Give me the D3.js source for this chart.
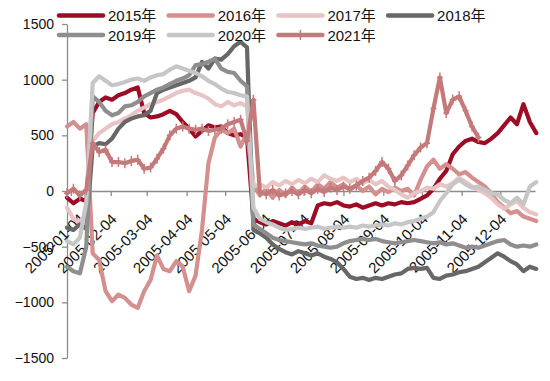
<!DOCTYPE html>
<html>
<head>
<meta charset="utf-8">
<script src="https://cdn.jsdelivr.net/npm/d3@7"></script>
<style>
body { margin: 0; background: #fff; }
svg { display: block; font-family: 'Liberation Sans', 'Noto Sans CJK SC', sans-serif; }
</style>
</head>
<body>
<div class="js-chart"></div>
<script>
var years = ['2015年', '2016年', '2017年', '2018年', '2019年', '2020年', '2021年'];
var colors = ['#9c0c24', '#d4908f', '#e8c4c4', '#676767', '#8e8e8e', '#c6c6c6', '#c47a7a'];
var tickLabels = ['2005-01-04', '2005-02-04', '2005-03-04', '2005-04-04', '2005-05-04', '2005-06-04',
    '2005-07-04', '2005-08-04', '2005-09-04', '2005-10-04', '2005-11-04', '2005-12-04'];
var yTicks = [-1500, -1000, -500, 0, 500, 1000, 1500];

// one value every 5 days, starting 2005-01-01
var v2015 = [-60, -110, -70, -90, 700, 800, 840, 820, 860, 880, 910, 930, 700, 660, 670, 690, 720, 690, 620, 560,
    490, 540, 590, 570, 580, 520, 500, 510, 480, -250, -280, -300, -270, -290, -310, -280, -300, -270, -290, -130,
    -110, -120, -100, -130, -140, -120, -150, -130, -110, -130, -110, -120, -100, -110, -100, -70, -40, 20, 110, 180,
    330, 400, 450, 470, 440, 430, 470, 520, 590, 660, 600, 780, 620, 520];
var v2016 = [580, 620, 560, 600, -560, -620, -900, -990, -930, -960, -1020, -1050, -900, -800, -580, -700, -720, -630, -680, -900,
    -760, -350, 250, 480, 550, 520, 560, 400, 520, 60, -40, 20, -60, 10, -40, 30, -20, 40, -10, 60,
    20, 80, 30, 60, 10, 50, 0, 40, -30, 20, -10, 30, 0, 20, -40, 100, 220, 280, 200, 240,
    200, 150, 170, 120, 80, 40, -20, -100, -150, -200, -180, -230, -250, -270];
var v2017 = [-150, -250, -280, -200, 450, 520, 560, 600, 620, 650, 680, 720, 750, 780, 800, 820, 850, 880, 900, 910,
    880, 860, 830, 780, 760, 800, 770, 790, 760, 40, 60, 30, 80, 50, 90, 60, 100, 70, 110, 80,
    140, 110, 90, 120, 80, 110, 70, 100, 60, 90, 40, 10, -30, -60, -20, 0, 30, 20, 60, 40,
    70, 120, 80, 40, 10, -20, -60, -120, -160, -120, -90, -150, -190, -210];
var v2018 = [-330, -350, -300, -340, 400, 430, 420, 470, 560, 620, 650, 670, 680, 720, 880, 910, 930, 950, 970, 990,
    1020, 1160, 1100, 1190, 1180, 1230, 1300, 1340, 1290, -350, -380, -420, -480, -520, -550, -570, -540, -560, -580, -560,
    -590, -610, -640, -700, -770, -790, -780, -800, -780, -790, -770, -750, -740, -700, -690, -700, -690, -780, -790, -760,
    -750, -730, -720, -700, -680, -640, -600, -560, -590, -630, -660, -720, -680, -700];
var v2019 = [-680, -720, -740, -500, 850, 800, 720, 680, 700, 760, 770, 800, 850, 880, 910, 930, 960, 990, 1010, 1040,
    1130, 1140, 1160, 1190, 1100, 1070, 1060, 990, 940, -300, -340, -380, -420, -440, -450, -460, -470, -480, -470, -490,
    -500, -510, -500, -470, -450, -440, -430, -440, -430, -450, -460, -470, -460, -450, -440, -450, -460, -470, -460, -480,
    -470, -490, -510, -500, -510, -490, -470, -450, -440, -480, -500, -490, -500, -480];
var v2020 = [-450, -480, -420, -100, 970, 1030, 990, 950, 960, 980, 1000, 1010, 990, 1020, 1040, 1050, 1090, 1120, 1100, 1080,
    1060, 1030, 990, 960, 920, 890, 880, 860, 850, -150, -250, -280, -300, -330, -350, -340, -330, -340, -330, -320,
    -340, -330, -320, -330, -320, -330, -310, -320, -310, -300, -310, -290, -300, -280, -270, -250, -230, -190, -90, -20,
    60, 100, 60, 30, 40, 10, -20, -30, -80, -110, -60, -120, 40, 80];
var v2021 = [-20, 20, -40, 10, 430, 350, 370, 260, 260, 250, 270, 280, 200, 210, 290, 380, 500, 560, 580, 560,
    550, 560, 540, 550, 560, 600, 620, 640, 450, 820, -10, -30, 10, -40, -20, 0, -30, 10, -20, 20,
    -10, 30, 10, 40, 20, 50, 90, 120, 180, 260, 200, 90, 140, 230, 320, 390, 430, 740, 1020, 700,
    820, 850, 720, 580, 480];

var series = [v2015, v2016, v2017, v2018, v2019, v2020, v2021];
var dates = d3.timeDay.range(new Date(2005, 0, 1), new Date(2006, 0, 2), 5);
var parse = d3.timeParse('%Y-%m-%d');

var svg = d3.select('.js-chart')
    .append('svg')
    .attr('width', 550)
    .attr('height', 381);

var x = d3.scaleTime()
    .domain([new Date(2005, 0, 1), new Date(2005, 11, 31)])
    .range([67, 535]);

var y = d3.scaleLinear()
    .domain([-1500, 1500])
    .range([358, 24]);

// y axis
var yAxis = svg.append('g')
    .attr('transform', 'translate(67,0)')
    .call(d3.axisLeft(y)
        .tickValues(yTicks)
        .tickFormat(d3.format('d'))
        .tickSize(5)
        .tickPadding(8)
        .tickSizeOuter(0));
yAxis.select('.domain').attr('stroke', '#8c8c8c').attr('stroke-width', 1.3);
yAxis.selectAll('.tick line').attr('stroke', '#8c8c8c').attr('stroke-width', 1.3);
yAxis.selectAll('.tick text')
    .style('font-size', '14px')
    .attr('fill', '#111');

// x axis sits on zero
var xAxis = svg.append('g')
    .attr('transform', 'translate(0,' + y(0) + ')')
    .call(d3.axisBottom(x)
        .tickValues(tickLabels.map(parse))
        .tickFormat(d3.timeFormat('%Y-%m-%d'))
        .tickSize(5)
        .tickSizeOuter(0));
xAxis.select('.domain').attr('stroke', '#8c8c8c').attr('stroke-width', 1.3);
xAxis.selectAll('.tick line').attr('stroke', '#8c8c8c').attr('stroke-width', 1.3);
xAxis.selectAll('.tick text')
    .attr('x', 0)
    .attr('y', 0)
    .attr('dy', 0)
    .attr('text-anchor', 'end')
    .attr('fill', '#111')
    .style('font-size', '15px')
    .attr('transform', function(d, i) {
        return 'translate(' + (i === 0 ? 14 : 6.5) + ',29) rotate(-45)';
    });

var line = d3.line()
    .x(function(d, i) { return x(dates[i]); })
    .y(function(d) { return y(d); });

svg.selectAll('.series')
    .data(series)
    .enter()
    .append('path')
        .attr('class', 'series')
        .attr('d', line)
        .attr('fill', 'none')
        .attr('stroke', function(d, i) { return colors[i]; })
        .attr('stroke-width', 4.2)
        .attr('stroke-linejoin', 'round')
        .attr('stroke-linecap', 'round');

// plus markers on 2021
svg.selectAll('.mark21')
    .data(v2021)
    .enter()
    .append('path')
        .attr('class', 'mark21')
        .attr('transform', function(d, i) {
            return 'translate(' + x(dates[i]) + ',' + y(d) + ')';
        })
        .attr('d', 'M-3,0H3M0,-5V5')
        .attr('stroke', colors[6])
        .attr('stroke-width', 1.5);

// legend
var legend = svg.selectAll('.legend')
    .data(years)
    .enter()
    .append('g')
        .attr('class', 'legend')
        .attr('transform', function(d, i) {
            return 'translate(' + (59 + (i % 4) * 109.7) + ',' + (i < 4 ? 15.5 : 35) + ')';
        });

legend.append('line')
    .attr('x1', 0)
    .attr('x2', 44)
    .attr('stroke', function(d, i) { return colors[i]; })
    .attr('stroke-width', 4.5)
    .attr('stroke-linecap', 'round');

legend.filter(function(d, i) { return i === 6; })
    .append('line')
    .attr('x1', 22)
    .attr('x2', 22)
    .attr('y1', -5)
    .attr('y2', 5)
    .attr('stroke', colors[6])
    .attr('stroke-width', 1.5);

legend.append('text')
    .attr('x', 49)
    .attr('y', 5.5)
    .style('font-size', '15px')
    .attr('fill', '#111')
    .text(function(d) { return d; });
</script>
</body>
</html>
